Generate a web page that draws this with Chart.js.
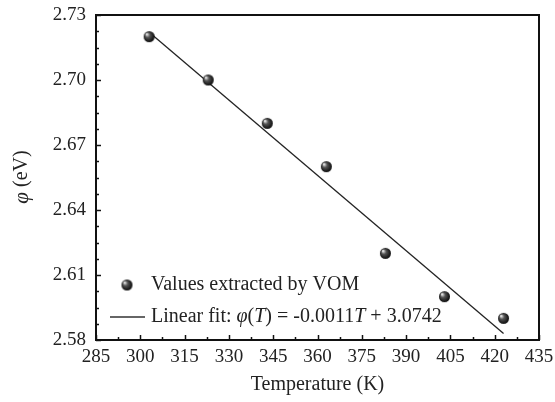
<!DOCTYPE html>
<html>
<head>
<meta charset="utf-8">
<script src="https://cdn.jsdelivr.net/npm/chart.js@4/dist/chart.umd.min.js"></script>
<style>
body{margin:0;background:#fff}
canvas{display:block}
</style>
</head>
<body>
<canvas id="phiChart" width="555" height="402"></canvas>
<script>

// measured values (VOM) and the fitted line ends
const tempK=[303,323,343,363,383,403,423]
const phiEV=[2.72,2.70,2.68,2.66,2.62,2.60,2.59]
const fitT=[303,423]
const fitPhi=[2.722,2.583]

const xMin=285, xMax=435, xStep=15
const yMin=2.58, yMax=2.73, yStep=0.03

const serif="'Liberation Serif','Times New Roman',serif"

// little shaded ball for the markers
function makeBall(r){
const c=document.createElement("canvas")
c.width=c.height=r*2+2
const g=c.getContext("2d")
const grad=g.createRadialGradient(r-1.5,r-1.5,0.5,r+1,r+1,r+0.5)
grad.addColorStop(0,"#e8e8e8")
grad.addColorStop(0.35,"#555")
grad.addColorStop(1,"#000")
g.fillStyle=grad
g.beginPath()
g.arc(r+1,r+1,r,0,Math.PI*2)
g.fill()
return c
}
const ball=makeBall(5.5)

function drawRich(ctx,parts,x,y,size){
parts.forEach(p=>{
ctx.font=(p.it?"italic ":"")+size+"px "+serif
ctx.fillText(p.t,x,y)
x+=ctx.measureText(p.t).width
})
}

const framePlugin={
id:"frame",
afterDraw(chart){
const ctx=chart.ctx
const a=chart.chartArea
const sx=chart.scales.x, sy=chart.scales.y
ctx.save()
ctx.strokeStyle="#111"
ctx.lineWidth=1.5
// ticks, inward, on bottom and left
for(let v=xMin;v<=xMax+0.001;v+=xStep/2){
const px=Math.round(sx.getPixelForValue(v))+0.5
const major=Math.abs((v-xMin)/xStep-Math.round((v-xMin)/xStep))<0.01
ctx.beginPath()
ctx.moveTo(px,a.bottom)
ctx.lineTo(px,a.bottom-(major?5:3))
ctx.stroke()
}
for(let v=yMin;v<=yMax+0.0001;v+=yStep/4){
const py=Math.round(sy.getPixelForValue(v))+0.5
const k=(v-yMin)/yStep
const major=Math.abs(k-Math.round(k))<0.01
ctx.beginPath()
ctx.moveTo(a.left,py)
ctx.lineTo(a.left+(major?5:3),py)
ctx.stroke()
}
ctx.lineWidth=2
ctx.strokeRect(a.left,a.top,a.right-a.left,a.bottom-a.top)

// y title with italic phi
ctx.fillStyle="#222"
ctx.translate(22,177)
ctx.rotate(-Math.PI/2)
ctx.textAlign="left"
ctx.textBaseline="middle"
ctx.font="italic 21px "+serif
const w1=ctx.measureText("φ").width
ctx.font="20px "+serif
const w2=ctx.measureText(" (eV)").width
drawRich(ctx,[{t:"φ",it:true}],-(w1+w2)/2,0,21)
drawRich(ctx,[{t:" (eV)"}],-(w1+w2)/2+w1,0,20)
ctx.restore()

// legend
ctx.save()
ctx.fillStyle="#222"
ctx.textBaseline="middle"
const lx=a.left+31, ly1=285, ly2=317
ctx.drawImage(ball,lx-ball.width/2,ly1-ball.height/2)
ctx.strokeStyle="#333"
ctx.lineWidth=1.3
ctx.beginPath()
ctx.moveTo(a.left+14,ly2)
ctx.lineTo(a.left+49,ly2)
ctx.stroke()
drawRich(ctx,[{t:"Values extracted by VOM"}],a.left+55,ly1,20)
drawRich(ctx,[{t:"Linear fit: "},{t:"φ",it:true},{t:"("},{t:"T",it:true},{t:") = -0.0011"},{t:"T",it:true},{t:" + 3.0742"}],a.left+55,ly2,20)
ctx.restore()
}
}

const phiChart=new Chart(document.getElementById("phiChart"),{
type:"scatter",
data:{
datasets:[
{
label:"Values extracted by VOM",
data:tempK.map((t,i)=>({x:t,y:phiEV[i]})),
pointStyle:ball,
pointRadius:6
},
{
type:"line",
label:"Linear fit",
data:fitT.map((t,i)=>({x:t,y:fitPhi[i]})),
borderColor:"#222",
borderWidth:1.3,
pointRadius:0,
fill:false
}
]
},
options:{
responsive:false,
animation:false,
layout:{padding:{top:15,right:16,left:0,bottom:0}},
plugins:{legend:{display:false},tooltip:{enabled:false}},
scales:{
x:{
type:"linear",
min:xMin,max:xMax,
grid:{display:false,drawTicks:false},
border:{display:false},
ticks:{stepSize:xStep,padding:6,color:"#222",font:{family:serif,size:19}},
title:{display:true,text:"Temperature (K)",color:"#222",font:{family:serif,size:20},padding:{top:2,bottom:5}},
afterFit:s=>{s.height=62;s.paddingLeft=0;s.paddingRight=0}
},
y:{
min:yMin,max:yMax,
grid:{display:false,drawTicks:false},
border:{display:false},
ticks:{stepSize:yStep,padding:10,color:"#222",font:{family:serif,size:19},callback:v=>v.toFixed(2)},
afterFit:s=>{s.width=96;s.paddingTop=0;s.paddingBottom=0}
}
}
},
plugins:[framePlugin]
})

</script>
</body>
</html>
